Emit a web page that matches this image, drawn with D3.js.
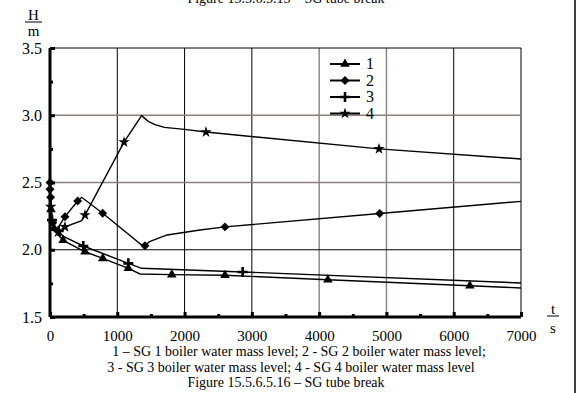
<!DOCTYPE html>
<html>
<head>
<meta charset="utf-8">
<script src="https://cdn.jsdelivr.net/npm/d3@7"></script>
<style>
  body { margin: 0; background: #fff; }
  svg text { font-family: "Liberation Serif", "Times New Roman", serif; fill: #000; }
</style>
</head>
<body>
<div id="chart"></div>
<script>
// data: [t (s), H (m)]
var s1Line = [[0,2.45],[8,2.36],[20,2.27],[45,2.19],[90,2.13],[195,2.07],[520,1.985],[785,1.936],[1164,1.862],[1337,1.82],[1810,1.815],[2600,1.81],[4130,1.777],[6240,1.732],[7000,1.716]];
var s1Marks = [[15,2.3],[60,2.16],[195,2.07],[520,1.985],[785,1.936],[1164,1.862],[1810,1.815],[2600,1.81],[4130,1.777],[6240,1.732]];

var s2Line = [[0,2.5],[5,2.44],[12,2.38],[25,2.27],[50,2.19],[100,2.15],[223,2.246],[411,2.362],[471,2.39],[783,2.271],[1390,2.023],[1480,2.06],[1740,2.11],[2230,2.147],[2600,2.17],[4900,2.27],[7000,2.36]];
var s2Marks = [[0,2.5],[0,2.45],[10,2.39],[40,2.2],[223,2.246],[411,2.362],[783,2.271],[1411,2.03],[2600,2.17],[4900,2.27]];

var s3Line = [[0,2.45],[10,2.35],[25,2.25],[60,2.18],[120,2.14],[200,2.1],[495,2.028],[1164,1.899],[1362,1.862],[2863,1.835],[7000,1.753]];
var s3Marks = [[30,2.22],[130,2.14],[495,2.028],[1164,1.899],[2863,1.835]];

var s4Line = [[0,2.45],[10,2.32],[25,2.22],[60,2.16],[120,2.13],[223,2.17],[471,2.216],[520,2.258],[1100,2.8],[1362,2.997],[1460,2.955],[1560,2.93],[1700,2.91],[2000,2.895],[2318,2.875],[4890,2.75],[7000,2.675]];
var s4Marks = [[10,2.32],[120,2.13],[223,2.17],[520,2.258],[1100,2.8],[2318,2.875],[4890,2.75]];

var xTicks = [0,1000,2000,3000,4000,5000,6000,7000];
var yTicks = [1.5,2.0,2.5,3.0,3.5];
var darkX = [1000,2000,3000,6000,7000];   // other vertical grid lines are grey
var darkY = [2.0,3.5];
var legendNames = ["1","2","3","4"];
var captionLines = [
  "1 \u2013 SG 1 boiler water mass level; 2 - SG 2 boiler water mass level;",
  "3 - SG 3 boiler water mass level; 4 - SG 4 boiler water mass level",
  "Figure 15.5.6.5.16 \u2013 SG tube break"
];
var topTitle = "Figure 15.5.6.5.15 \u2013 SG tube break";

var W = 576, H = 393;
var margin = {top: 48, left: 50, right: 55, bottom: 76};
var width = W - margin.left - margin.right,
    height = H - margin.top - margin.bottom;
var serif = '"Liberation Serif", "Times New Roman", serif';

var svg = d3.select("#chart").append("svg")
    .attr("width", W)
    .attr("height", H);

var g = svg.append("g")
    .attr("transform", "translate(" + margin.left + "," + margin.top + ")");

var x = d3.scaleLinear().domain([0, 7000]).range([0, width]);
var y = d3.scaleLinear().domain([1.5, 3.5]).range([height, 0]);

var grey = "#8a7f7f";

// grid
g.selectAll(".vgrid")
  .data(xTicks.slice(1))
  .enter().append("line")
    .attr("x1", function(d) { return x(d); })
    .attr("x2", function(d) { return x(d); })
    .attr("y1", 0).attr("y2", height)
    .attr("stroke", function(d) { return darkX.indexOf(d) >= 0 ? "#000" : grey; })
    .attr("stroke-width", function(d) { return darkX.indexOf(d) >= 0 ? 1 : 1.4; });

g.selectAll(".hgrid")
  .data(yTicks.slice(1))
  .enter().append("line")
    .attr("x1", 0).attr("x2", width)
    .attr("y1", function(d) { return y(d); })
    .attr("y2", function(d) { return y(d); })
    .attr("stroke", function(d) { return darkY.indexOf(d) >= 0 ? "#000" : grey; })
    .attr("stroke-width", function(d) { return darkY.indexOf(d) >= 0 ? 1 : 1.6; });

// axes
var xAxis = g.append("g")
  .attr("transform", "translate(0," + height + ")")
  .call(d3.axisBottom(x).tickValues(xTicks).tickSize(-5).tickPadding(13).tickFormat(d3.format("d")));
xAxis.select(".domain").attr("stroke-width", 3).attr("d", "M0,0H" + width);
xAxis.selectAll(".tick line").attr("stroke-width", 3);
xAxis.selectAll("text").style("font-size", "15px").style("font-family", serif);

var xMinor = g.append("g")
  .attr("transform", "translate(0," + height + ")")
  .call(d3.axisBottom(x).tickValues(d3.range(500, 7000, 1000)).tickSize(-3).tickFormat(""));
xMinor.select(".domain").remove();
xMinor.selectAll(".tick line").attr("stroke-width", 3);

var yAxis = g.append("g")
  .call(d3.axisLeft(y).tickValues(yTicks).tickSize(-5).tickPadding(8).tickFormat(d3.format(".1f")));
yAxis.select(".domain").attr("stroke-width", 3).attr("d", "M0,0V" + height);
yAxis.selectAll(".tick line").attr("stroke-width", 3);
yAxis.selectAll("text").style("font-size", "16px").style("font-family", serif);

var yMinor = g.append("g")
  .call(d3.axisLeft(y).tickValues([1.75, 2.25, 2.75, 3.25]).tickSize(-3).tickFormat(""));
yMinor.select(".domain").remove();
yMinor.selectAll(".tick line").attr("stroke-width", 3);

// curves
var line = d3.line()
  .x(function(d) { return x(d[0]); })
  .y(function(d) { return y(d[1]); });

[s1Line, s2Line, s3Line, s4Line].forEach(function(s) {
  g.append("path")
    .datum(s)
    .attr("fill", "none")
    .attr("stroke", "#000")
    .attr("stroke-width", 1.4)
    .attr("d", line);
});

// markers
var tri = d3.symbol().type(d3.symbolTriangle).size(40)();
var dia = d3.symbol().type(d3.symbolSquare).size(40)();
var star = d3.symbol().type(d3.symbolStar).size(40)();
var plus = "M-5,0H5M0,-5V5";

function drawMarks(sel, data, shape) {
  var m = sel.selectAll(null)
    .data(data)
    .enter().append("path")
      .attr("d", shape)
      .attr("transform", function(d) {
        return "translate(" + x(d[0]) + "," + y(d[1]) + ")" + (shape === dia ? " rotate(45)" : "");
      });
  if (shape === plus) {
    m.attr("fill", "none").attr("stroke", "#000").attr("stroke-width", 2.6);
  } else {
    m.attr("fill", "#000");
  }
}
drawMarks(g.append("g"), s1Marks, tri);
drawMarks(g.append("g"), s2Marks, dia);
drawMarks(g.append("g"), s3Marks, plus);
drawMarks(g.append("g"), s4Marks, star);

// legend
var shapes = [tri, dia, plus, star];
var legend = svg.append("g").attr("transform", "translate(330,64)");
legendNames.forEach(function(name, i) {
  var row = legend.append("g").attr("transform", "translate(0," + (i * 16.5) + ")");
  row.append("line").attr("x1", 0).attr("x2", 30).attr("stroke", "#000").attr("stroke-width", 2);
  var m = row.append("path").attr("d", shapes[i])
    .attr("transform", "translate(15,0)" + (shapes[i] === dia ? " rotate(45)" : ""));
  if (shapes[i] === plus) m.attr("fill", "none").attr("stroke", "#000").attr("stroke-width", 2.6);
  else m.attr("fill", "#000");
  row.append("text").attr("x", 36).attr("y", 5).attr("font-size", 16).text(name);
});

// axis titles
svg.append("text").attr("x", 33.5).attr("y", 20).attr("text-anchor", "middle").attr("font-size", 15).text("H");
svg.append("line").attr("x1", 25).attr("x2", 42).attr("y1", 22).attr("y2", 22).attr("stroke", "#000");
svg.append("text").attr("x", 33.5).attr("y", 36).attr("text-anchor", "middle").attr("font-size", 15).text("m");

svg.append("text").attr("x", 553).attr("y", 314).attr("text-anchor", "middle").attr("font-size", 15).text("t");
svg.append("line").attr("x1", 547).attr("x2", 559).attr("y1", 316).attr("y2", 316).attr("stroke", "#000");
svg.append("text").attr("x", 553).attr("y", 333).attr("text-anchor", "middle").attr("font-size", 15).text("s");

// captions (the top one is cut off by the page edge, as in the scan)
svg.append("text").attr("x", 286).attr("y", 3).attr("text-anchor", "middle").attr("font-size", 14).text(topTitle);
svg.selectAll(".cap")
  .data(captionLines)
  .enter().append("text")
    .attr("x", function(d, i) { return [299, 291, 286][i]; })
    .attr("y", function(d, i) { return 356 + i * 15.5; })
    .attr("text-anchor", "middle")
    .attr("font-size", 14)
    .text(function(d) { return d; });

// right edge line of the scanned page
svg.append("line").attr("x1", 575).attr("x2", 575).attr("y1", 0).attr("y2", H).attr("stroke", "#000").attr("stroke-width", 1.5);
</script>
</body>
</html>
